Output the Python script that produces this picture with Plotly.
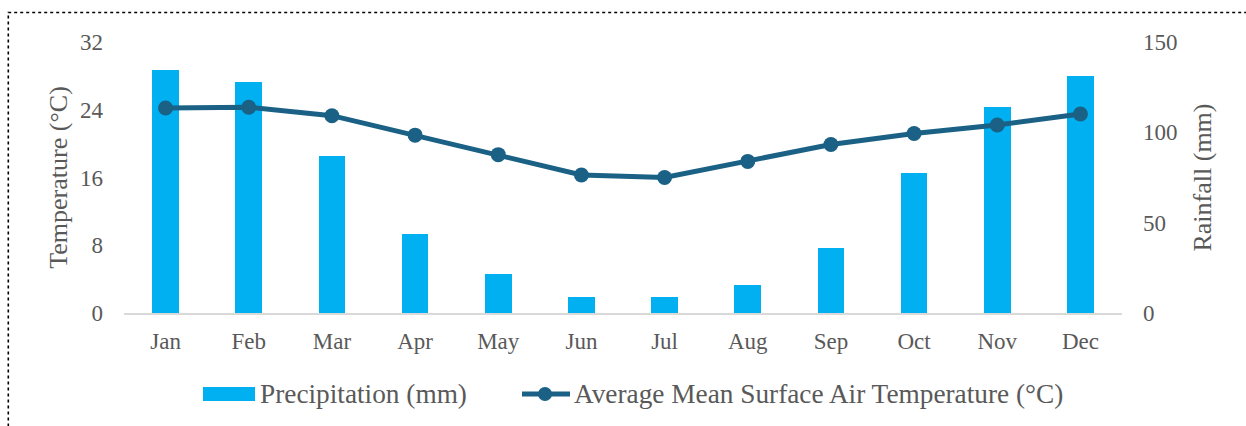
import plotly.graph_objects as go

# Monthly climate data
months = ["Jan", "Feb", "Mar", "Apr", "May", "Jun", "Jul", "Aug", "Sep", "Oct", "Nov", "Dec"]
precipitation_mm = [134.3, 128.0, 87.0, 43.9, 21.5, 9.0, 8.6, 15.3, 35.9, 77.5, 114.0, 131.3]
temperature_c = [24.2, 24.3, 23.3, 21.0, 18.7, 16.3, 16.0, 17.9, 19.9, 21.2, 22.2, 23.5]

temp_ticks = [0, 8, 16, 24, 32]
rain_ticks = [0, 50, 100, 150]

bar_name = "Precipitation (mm)"
line_name = "Average Mean Surface Air Temperature (°C)"

BAR_COLOR = "#00B0F0"
LINE_COLOR = "#1A6185"
TEXT_COLOR = "#595959"
FONT = "Liberation Serif, Times New Roman, serif"

W, H = 1246, 426
ML, MR, MT, MB = 124, 124, 42, 113
PW, PH = W - ML - MR, H - MT - MB


def px_x(px):
    return (px - ML) / PW


def px_y(py):
    return (H - MB - py) / PH


fig = go.Figure()

fig.add_trace(go.Bar(
    x=months, y=precipitation_mm, name=bar_name,
    marker=dict(color=BAR_COLOR, line=dict(width=0)),
    width=0.32, yaxis="y", showlegend=False,
))

fig.add_trace(go.Scatter(
    x=months, y=temperature_c, name=line_name,
    mode="lines+markers",
    line=dict(color=LINE_COLOR, width=5),
    marker=dict(color=LINE_COLOR, size=15),
    yaxis="y2", showlegend=False,
))

tick_font = dict(family=FONT, size=23, color=TEXT_COLOR)
title_font = dict(family=FONT, size=26, color=TEXT_COLOR)

fig.update_layout(
    width=W, height=H,
    margin=dict(l=ML, r=MR, t=MT, b=MB),
    paper_bgcolor="white", plot_bgcolor="white",
    font=dict(family=FONT, color=TEXT_COLOR),
    bargap=0,
    xaxis=dict(
        type="category", range=[-0.5, 11.5],
        showline=True, linecolor="#D9D9D9", linewidth=1.5,
        showgrid=False, zeroline=False, ticks="",
        tickfont=tick_font, ticklabelstandoff=7,
    ),
    yaxis=dict(
        side="right", range=[0, 150], tickvals=rain_ticks,
        showgrid=False, zeroline=False, showline=False, ticks="",
        tickfont=tick_font, ticklabelstandoff=20,
        title=dict(text="Rainfall (mm)", font=title_font, standoff=16),
    ),
    yaxis2=dict(
        side="left", overlaying="y", range=[0, 32], tickvals=temp_ticks,
        showgrid=False, zeroline=False, showline=False, ticks="",
        tickfont=tick_font, ticklabelstandoff=20,
        title=dict(text="Temperature (°C)", font=title_font, standoff=4),
    ),
    showlegend=False,
)

# Dotted frame around the chart
fig.add_shape(type="rect", xref="paper", yref="paper",
              x0=px_x(8.3), x1=px_x(1260), y0=px_y(440), y1=px_y(12.5),
              line=dict(color="black", width=1.6, dash="dot"), layer="below")

# Legend drawn below the plot
leg_y = 394
fig.add_shape(type="rect", xref="paper", yref="paper",
              x0=px_x(203), x1=px_x(255), y0=px_y(401), y1=px_y(387),
              fillcolor=BAR_COLOR, line=dict(width=0))
fig.add_shape(type="line", xref="paper", yref="paper",
              x0=px_x(522), x1=px_x(570), y0=px_y(leg_y), y1=px_y(leg_y),
              line=dict(color=LINE_COLOR, width=5))
fig.add_shape(type="circle", xref="paper", yref="paper",
              x0=px_x(538), x1=px_x(552), y0=px_y(leg_y + 7), y1=px_y(leg_y - 7),
              fillcolor=LINE_COLOR, line=dict(width=0))

legend_font = dict(family=FONT, size=27.3, color=TEXT_COLOR)
fig.add_annotation(x=px_x(258), y=px_y(leg_y), xref="paper", yref="paper",
                   text=bar_name, showarrow=False, xanchor="left", yanchor="middle",
                   font=legend_font)
fig.add_annotation(x=px_x(572), y=px_y(leg_y), xref="paper", yref="paper",
                   text=line_name, showarrow=False, xanchor="left", yanchor="middle",
                   font=legend_font)

fig.write_html("out.html")
